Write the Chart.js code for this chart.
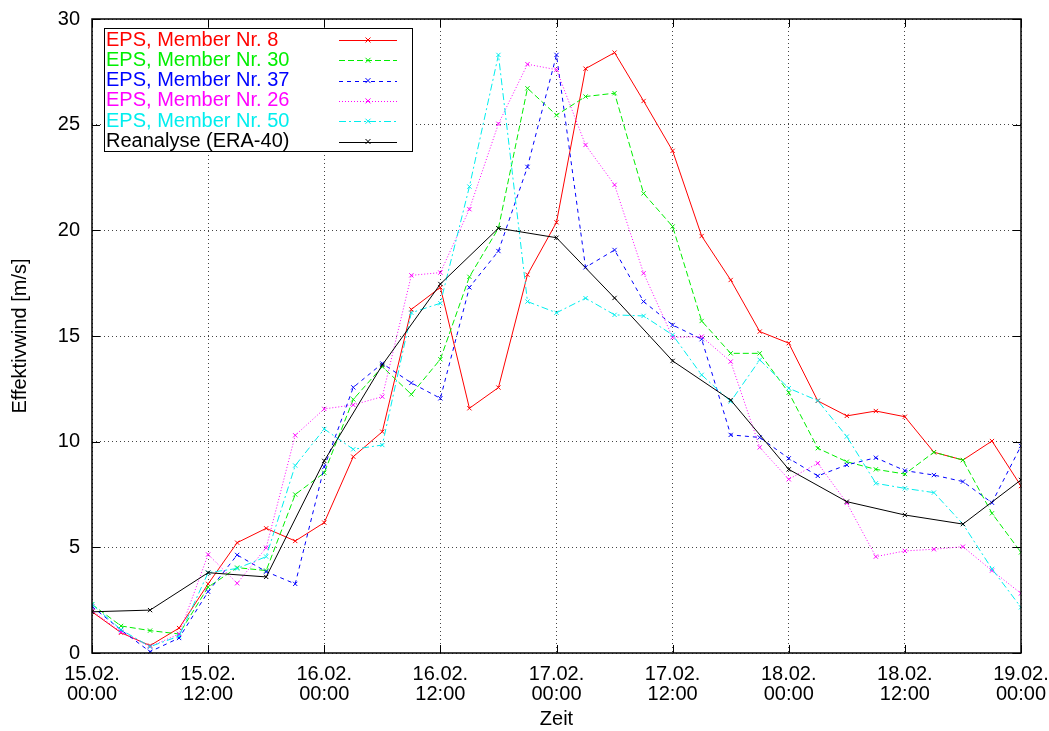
<!DOCTYPE html>
<html>
<head>
<meta charset="utf-8">
<title>Effektivwind</title>
<script src="https://cdn.jsdelivr.net/npm/chart.js@4.4.1/dist/chart.umd.min.js"></script>
<style>
  html, body { margin: 0; padding: 0; background: #fff; }
  #wrap { width: 1049px; height: 731px; }
</style>
</head>
<body>
<div id="wrap"><canvas id="wind-chart" width="1049" height="731"></canvas></div>
<script>
// Hours since 15.02. 00:00 (3-hourly EPS steps)
const hours = [0, 3, 6, 9, 12, 15, 18, 21, 24, 27, 30, 33, 36, 39, 42, 45, 48,
  51, 54, 57, 60, 63, 66, 69, 72, 75, 78, 81, 84, 87, 90, 93, 96];

const member8 = [1.95, 0.96, 0.35, 1.18, 3.27, 5.22, 5.9, 5.3, 6.17, 9.29, 10.47,
  16.26, 17.3, 11.58, 12.56, 17.9, 20.38, 27.65, 28.41, 26.12, 23.76, 19.73,
  17.65, 15.21, 14.66, 11.93, 11.22, 11.45, 11.18, 9.5, 9.13, 10.03, 7.9];
const member30 = [2.3, 1.28, 1.06, 0.9, 3.12, 4.04, 3.9, 7.5, 8.53, 12.0, 13.55,
  12.24, 13.9, 17.8, 20.1, 26.72, 25.45, 26.33, 26.49, 21.75, 20.18, 15.71,
  14.18, 14.18, 12.32, 9.69, 9.05, 8.69, 8.47, 9.5, 9.13, 6.61, 4.76];
const member37 = [2.2, 1.09, 0.06, 0.71, 2.9, 4.64, 3.85, 3.27, 8.8, 12.57, 13.7,
  12.78, 12.05, 17.3, 19.02, 23.0, 28.3, 18.25, 19.07, 16.63, 15.52, 14.85,
  10.32, 10.2, 9.21, 8.38, 8.9, 9.24, 8.63, 8.42, 8.11, 7.11, 9.8];
const member26 = [2.0, 1.0, 0.3, 0.9, 4.66, 3.3, 4.98, 10.3, 11.55, 11.74, 12.13,
  17.87, 18.0, 21.0, 25.04, 27.86, 27.6, 24.04, 22.15, 17.97, 14.94, 14.97,
  13.79, 9.73, 8.22, 8.98, 7.1, 4.56, 4.83, 4.91, 5.03, 3.9, 2.82];
const member50 = [2.3, 1.1, 0.3, 0.8, 3.8, 4.0, 4.56, 8.87, 10.6, 9.64, 9.84,
  16.1, 16.55, 22.07, 28.3, 16.63, 16.1, 16.79, 16.0, 15.95, 15.05, 13.16,
  11.9, 13.87, 12.53, 11.94, 10.24, 8.03, 7.79, 7.59, 6.1, 3.98, 2.16];

// Reanalysis is 6-hourly
const reanalysisHours = [0, 6, 12, 18, 24, 30, 36, 42, 48, 54, 60, 66, 72, 78, 84, 90, 96];
const reanalysis = [1.95, 2.03, 3.8, 3.6, 9.09, 13.63, 17.46, 20.1, 19.65, 16.8,
  13.82, 11.97, 8.69, 7.16, 6.53, 6.1, 8.19];

const xTickLabels = [
  ["15.02.", "00:00"], ["15.02.", "12:00"], ["16.02.", "00:00"],
  ["16.02.", "12:00"], ["17.02.", "00:00"], ["17.02.", "12:00"],
  ["18.02.", "00:00"], ["18.02.", "12:00"], ["19.02.", "00:00"]
];

const FONT = '"Liberation Sans", Arial, Helvetica, sans-serif';

function toPoints(xs, ys) {
  return ys.map((v, i) => ({ x: xs[i], y: v }));
}

function series(label, xs, ys, color, dash, order) {
  return {
    label: label,
    data: toPoints(xs, ys),
    borderColor: color,
    backgroundColor: color,
    borderWidth: 1,
    borderDash: dash,
    pointStyle: "crossRot",
    pointRadius: 3,
    pointBorderWidth: 1,
    pointBorderColor: color,
    tension: 0,
    fill: false,
    order: order,
  };
}

// Frame, inward tick marks and the boxed legend (gnuplot style)
const framePlugin = {
  id: "frame",
  afterDraw(chart) {
    const ctx = chart.ctx;
    const a = chart.chartArea;
    const xs = chart.scales.x;
    const ys = chart.scales.y;
    const tl = 8;

    ctx.save();
    ctx.setLineDash([]);
    ctx.strokeStyle = "#000";
    ctx.lineWidth = 1;
    ys.ticks.forEach((t) => {
      const py = Math.round(ys.getPixelForValue(t.value)) + 0.5;
      ctx.beginPath();
      ctx.moveTo(a.left, py); ctx.lineTo(a.left + tl, py);
      ctx.moveTo(a.right, py); ctx.lineTo(a.right - tl, py);
      ctx.stroke();
    });
    xs.ticks.forEach((t) => {
      const px = Math.round(xs.getPixelForValue(t.value)) + 0.5;
      ctx.beginPath();
      ctx.moveTo(px, a.bottom); ctx.lineTo(px, a.bottom - tl);
      ctx.moveTo(px, a.top); ctx.lineTo(px, a.top + tl);
      ctx.stroke();
    });
    ctx.lineWidth = 1.5;
    ctx.strokeRect(a.left, a.top, a.right - a.left, a.bottom - a.top);

    // legend box
    const bx = a.left + 12, by = a.top + 9, bw = 308, bh = 123;
    ctx.fillStyle = "#fff";
    ctx.fillRect(bx, by, bw, bh);
    ctx.lineWidth = 1;
    ctx.strokeRect(bx + 0.5, by + 0.5, bw, bh);

    ctx.font = "20px " + FONT;
    ctx.textBaseline = "middle";
    ctx.textAlign = "left";
    chart.data.datasets.forEach((ds, k) => {
      const cy = by + 12 + k * 20.3;
      ctx.fillStyle = ds.borderColor;
      ctx.fillText(ds.label, bx + 2, cy);
      const x0 = bx + 235, x1 = bx + 293, xm = bx + 264;
      ctx.strokeStyle = ds.borderColor;
      ctx.lineWidth = 1;
      ctx.setLineDash(ds.borderDash || []);
      ctx.beginPath();
      ctx.moveTo(x0, Math.round(cy) + 0.5);
      ctx.lineTo(x1, Math.round(cy) + 0.5);
      ctx.stroke();
      ctx.setLineDash([]);
      ctx.beginPath();
      ctx.moveTo(xm - 2.5, cy - 2.5); ctx.lineTo(xm + 2.5, cy + 2.5);
      ctx.moveTo(xm - 2.5, cy + 2.5); ctx.lineTo(xm + 2.5, cy - 2.5);
      ctx.stroke();
    });
    ctx.restore();
  },
};

const ctx = document.getElementById("wind-chart").getContext("2d");

const windChart = new Chart(ctx, {
  type: "line",
  data: {
    datasets: [
      series("EPS, Member Nr. 8", hours, member8, "#ff0000", [], 5),
      series("EPS, Member Nr. 30", hours, member30, "#00ee00", [6, 3], 4),
      series("EPS, Member Nr. 37", hours, member37, "#0000ff", [4, 4], 3),
      series("EPS, Member Nr. 26", hours, member26, "#ff00ff", [1, 2], 2),
      series("EPS, Member Nr. 50", hours, member50, "#00eeee", [7, 3, 2, 3], 1),
      series("Reanalyse (ERA-40)", reanalysisHours, reanalysis, "#000000", [], 0),
    ],
  },
  options: {
    responsive: false,
    animation: false,
    layout: { padding: { top: 19, right: 28, left: 0, bottom: 0 } },
    plugins: {
      legend: { display: false },
      tooltip: { enabled: false },
    },
    scales: {
      x: {
        type: "linear",
        min: 0,
        max: 96,
        afterFit(scale) {
          scale.height = 78;
          scale.paddingLeft = 0;
          scale.paddingRight = 0;
        },
        ticks: {
          stepSize: 12,
          autoSkip: false,
          maxRotation: 0,
          padding: 11,
          color: "#000",
          font: { family: FONT, size: 20, lineHeight: 1.0 },
          callback: (v) => xTickLabels[Math.round(v / 12)],
        },
        grid: { color: "#444", lineWidth: 1, drawTicks: false },
        border: { display: false, dash: [1, 3] },
        title: {
          display: true,
          text: "Zeit",
          color: "#000",
          font: { family: FONT, size: 20, lineHeight: 1.2 },
          padding: { top: 0, bottom: 0 },
        },
      },
      y: {
        min: 0,
        max: 30,
        afterFit(scale) {
          scale.width = 92;
          scale.paddingTop = 0;
          scale.paddingBottom = 0;
        },
        ticks: {
          stepSize: 5,
          padding: 12,
          color: "#000",
          font: { family: FONT, size: 20 },
        },
        grid: { color: "#444", lineWidth: 1, drawTicks: false },
        border: { display: false, dash: [1, 3] },
        title: {
          display: true,
          text: "Effektivwind [m/s]",
          color: "#000",
          font: { family: FONT, size: 20, lineHeight: 1.2 },
          padding: { top: 8, bottom: 0 },
        },
      },
    },
  },
  plugins: [framePlugin],
});
</script>
</body>
</html>
